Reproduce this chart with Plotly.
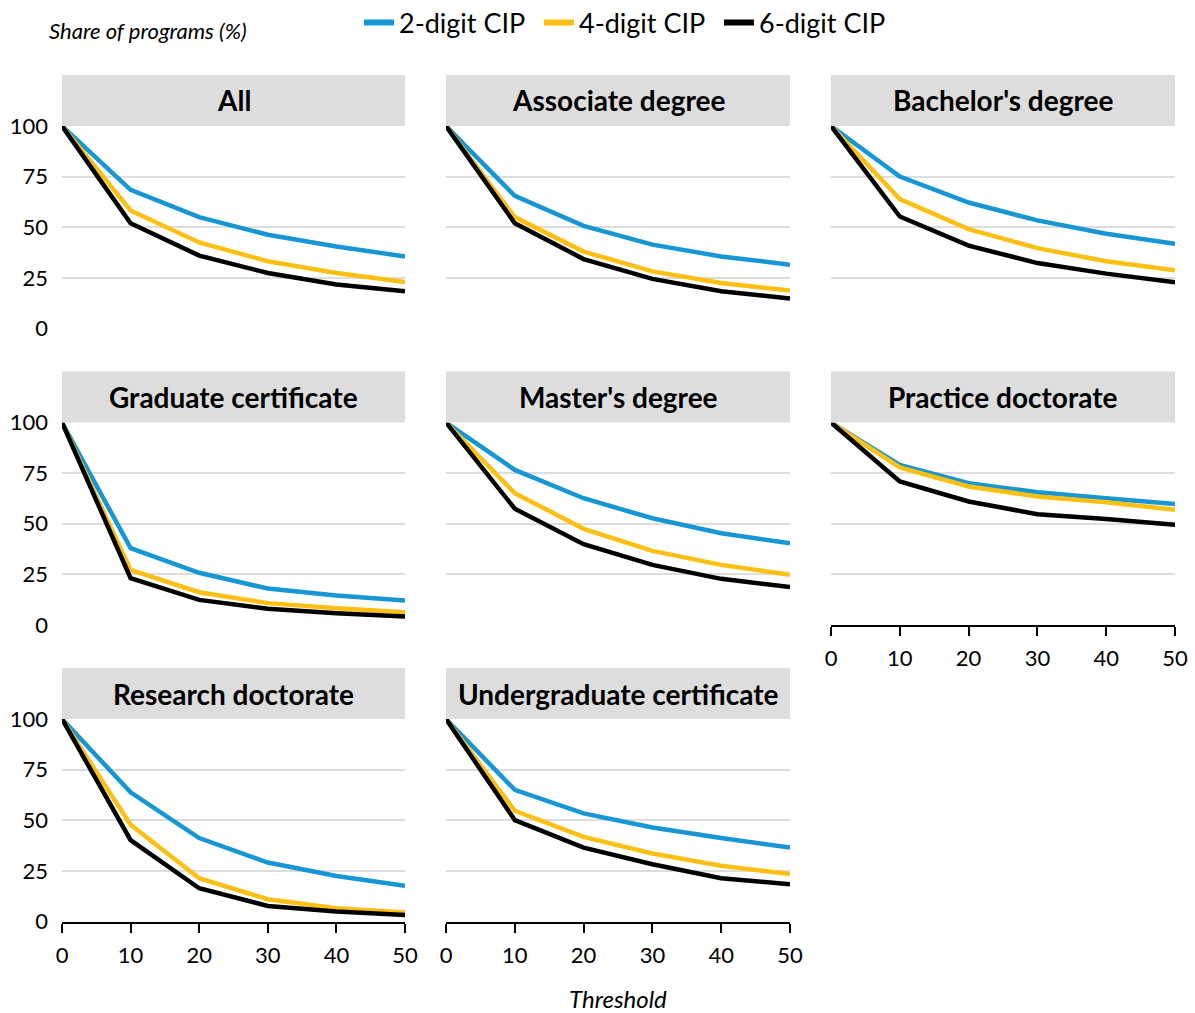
import plotly.graph_objects as go

# Threshold values on the x axis
thresholds = [0, 10, 20, 30, 40, 50]

# Panel names, in reading order
panels = [
    "All", "Associate degree", "Bachelor's degree",
    "Graduate certificate", "Master's degree", "Practice doctorate",
    "Research doctorate", "Undergraduate certificate",
]

# Share of programs (%) for each CIP level, per panel
cip2 = {
    "All": [100, 68.5, 55.0, 46.3, 40.5, 35.6],
    "Associate degree": [100, 65.5, 50.7, 41.4, 35.6, 31.5],
    "Bachelor's degree": [100, 75.0, 62.2, 53.4, 46.8, 41.9],
    "Graduate certificate": [100, 38.0, 25.8, 18.0, 14.6, 12.1],
    "Master's degree": [100, 76.6, 62.6, 52.7, 45.3, 40.4],
    "Practice doctorate": [100, 79.1, 70.0, 65.6, 62.6, 59.7],
    "Research doctorate": [100, 63.8, 41.2, 29.1, 22.5, 17.6],
    "Undergraduate certificate": [100, 65.0, 53.4, 46.4, 41.2, 36.5],
}
cip4 = {
    "All": [100, 58.3, 42.5, 33.2, 27.4, 23.0],
    "Associate degree": [100, 55.0, 38.0, 28.2, 22.5, 18.7],
    "Bachelor's degree": [100, 63.9, 49.1, 39.7, 33.2, 28.7],
    "Graduate certificate": [100, 27.2, 16.2, 10.8, 8.3, 6.3],
    "Master's degree": [100, 65.1, 47.5, 36.6, 29.7, 24.8],
    "Practice doctorate": [100, 77.8, 68.4, 63.5, 60.6, 56.9],
    "Research doctorate": [100, 47.8, 21.4, 11.0, 6.5, 4.4],
    "Undergraduate certificate": [100, 54.7, 41.8, 33.6, 27.5, 23.4],
}
cip6 = {
    "All": [100, 52.0, 36.0, 27.4, 21.7, 18.4],
    "Associate degree": [100, 52.0, 34.3, 24.5, 18.4, 14.8],
    "Bachelor's degree": [100, 55.3, 40.9, 32.3, 27.1, 22.8],
    "Graduate certificate": [100, 23.1, 12.4, 8.0, 5.8, 4.2],
    "Master's degree": [100, 57.4, 39.9, 29.7, 22.8, 18.7],
    "Practice doctorate": [100, 70.9, 61.0, 54.7, 52.4, 49.5],
    "Research doctorate": [100, 40.2, 16.4, 7.7, 4.9, 3.2],
    "Undergraduate certificate": [100, 50.1, 36.5, 28.3, 21.4, 18.4],
}

y_ticks = [0, 25, 50, 75, 100]
x_ticks = [0, 10, 20, 30, 40, 50]

series = [
    ("2-digit CIP", cip2, "#1696d2"),
    ("4-digit CIP", cip4, "#fdbf11"),
    ("6-digit CIP", cip6, "#000000"),
]

W, H = 1195, 1013
FONT = "Lato"
col_px = [(62, 405), (446, 790), (831, 1175)]
row_top0, row_bot0, row_step = 126, 328.5, 296.5
strip_h = 51

# Panels that carry the x axis (bottom of each column)
bottom_panels = {"Practice doctorate", "Research doctorate", "Undergraduate certificate"}

fig = go.Figure()
shapes = []
annotations = []

for i, name in enumerate(panels):
    r, c = divmod(i, 3)
    idx = i + 1
    xa = "x" if idx == 1 else f"x{idx}"
    ya = "y" if idx == 1 else f"y{idx}"
    x0p, x1p = col_px[c]
    top = row_top0 + r * row_step
    bot = row_bot0 + r * row_step

    for label, data, color in series:
        fig.add_trace(go.Scatter(
            x=thresholds, y=data[name], mode="lines", name=label,
            line=dict(color=color, width=4.5),
            xaxis=xa, yaxis=ya, showlegend=False,
            legendgroup=label,
        ))

    has_x = name in bottom_panels
    fig.update_layout(**{
        ("xaxis" if idx == 1 else f"xaxis{idx}"): dict(
            domain=[x0p / W, x1p / W], range=[0, 50], anchor=ya,
            tickvals=x_ticks, showgrid=False, zeroline=False,
            showline=has_x, linecolor="#000000", linewidth=2,
            ticks="outside" if has_x else "", ticklen=9, tickwidth=2,
            tickcolor="#000000", showticklabels=has_x, ticklabelstandoff=4,
            tickfont=dict(family=FONT, size=22, color="#000000"),
            fixedrange=True, automargin=False,
        ),
        ("yaxis" if idx == 1 else f"yaxis{idx}"): dict(
            domain=[1 - bot / H, 1 - top / H], range=[0, 100], anchor=xa,
            tickvals=y_ticks, showgrid=True, gridcolor="#dedddd", gridwidth=2,
            zeroline=False, showline=False, ticks="",
            showticklabels=(c == 0), ticklabelstandoff=13,
            tickfont=dict(family=FONT, size=22, color="#000000"),
            fixedrange=True, automargin=False,
        ),
    })

    # strip header
    shapes.append(dict(
        type="rect", xref="paper", yref="paper",
        x0=x0p / W, x1=x1p / W, y0=1 - top / H, y1=1 - (top - strip_h) / H,
        fillcolor="#dedddd", line=dict(width=0), layer="above",
    ))
    annotations.append(dict(
        text=f"<b>{name}</b>", xref="paper", yref="paper",
        x=(x0p + x1p) / 2 / W, y=1 - (top - strip_h / 2) / H,
        xanchor="center", yanchor="middle", showarrow=False,
        font=dict(family=FONT, size=28, color="#000000"),
    ))

# legend entries with thicker key lines
for label, _, color in series:
    fig.add_trace(go.Scatter(
        x=[None], y=[None], mode="lines", name=label,
        line=dict(color=color, width=6), legendgroup=label, showlegend=True,
    ))

annotations.append(dict(
    text="<i>Share of programs (%)</i>", xref="paper", yref="paper",
    x=47 / W, y=1 - 31 / H, xanchor="left", yanchor="middle", showarrow=False,
    font=dict(family=FONT, size=22, color="#000000"),
))
annotations.append(dict(
    text="<i>Threshold</i>", xref="paper", yref="paper",
    x=618 / W, y=1 - 998 / H, xanchor="center", yanchor="middle", showarrow=False,
    font=dict(family=FONT, size=24, color="#000000"),
))

fig.update_layout(
    width=W, height=H,
    margin=dict(l=0, r=0, t=0, b=0, pad=0, autoexpand=False),
    paper_bgcolor="#ffffff", plot_bgcolor="#ffffff",
    font=dict(family=FONT, color="#000000"),
    shapes=shapes, annotations=annotations,
    showlegend=True,
    legend=dict(
        orientation="h", x=359 / W, y=1 - 23 / H, xanchor="left", yanchor="middle",
        font=dict(family=FONT, size=27, color="#000000"),
        bgcolor="rgba(0,0,0,0)", itemwidth=30, tracegroupgap=0,
        entrywidth=135, entrywidthmode="pixels",
    ),
)

fig.write_html("out.html")
with open("out.html", encoding="utf-8") as fh:
    page = fh.read()
page = page.replace(
    "<head>",
    "<head><style>html,body{margin:0;padding:0;overflow:hidden;}</style>",
    1,
)
with open("out.html", "w", encoding="utf-8") as fh:
    fh.write(page)
